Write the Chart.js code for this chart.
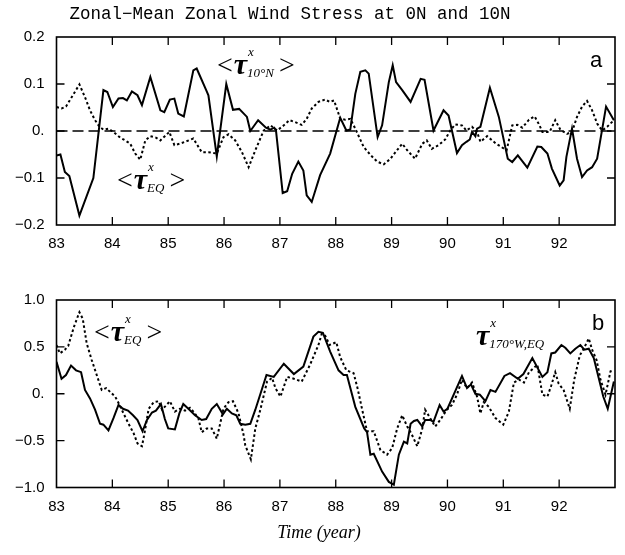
<!DOCTYPE html>
<html>
<head>
<meta charset="utf-8">
<script src="https://cdn.jsdelivr.net/npm/chart.js@4.4.0/dist/chart.umd.min.js"></script>
<style>
  body { margin: 0; background: #fff; }
  #wrap { position: relative; width: 625px; height: 555px; }
  canvas { position: absolute; left: 0; }
</style>
</head>
<body>
<div id="wrap">
  <canvas id="chart-a" width="625" height="260" style="top:0"></canvas>
  <canvas id="chart-b" width="625" height="295" style="top:260px"></canvas>
</div>
<script>
// ---- panel a: zonal-mean stress at 10N (solid) and EQ (dotted), N/m^2 ----
const yearsA10N = [83.0, 83.07, 83.15, 83.23, 83.41, 83.66, 83.84, 83.91, 84.01, 84.11,
  84.19, 84.26, 84.35, 84.45, 84.53, 84.68, 84.86, 84.93, 85.03, 85.11,
  85.18, 85.28, 85.45, 85.51, 85.68, 85.72, 85.87, 86.04, 86.16, 86.27,
  86.41, 86.47, 86.61, 86.75, 86.83, 86.9, 86.93, 87.05, 87.13, 87.22,
  87.33, 87.42, 87.48, 87.57, 87.72, 87.9, 88.08, 88.19, 88.26, 88.35,
  88.44, 88.53, 88.59, 88.75, 88.83, 88.95, 89.02, 89.08, 89.19, 89.34,
  89.52, 89.59, 89.75, 89.93, 90.02, 90.17, 90.26, 90.34, 90.4, 90.44,
  90.5, 90.53, 90.59, 90.76, 90.92, 91.08, 91.16, 91.26, 91.43, 91.61,
  91.68, 91.79, 91.87, 92.01, 92.08, 92.13, 92.23, 92.32, 92.41, 92.5,
  92.59, 92.68, 92.84, 92.98];
const tau10N = [-0.052, -0.05, -0.087, -0.096, -0.18, -0.10, 0.087, 0.083, 0.051, 0.069,
  0.07, 0.065, 0.084, 0.076, 0.055, 0.115, 0.044, 0.04, 0.067, 0.069,
  0.037, 0.031, 0.129, 0.133, 0.087, 0.076, -0.054, 0.1, 0.045, 0.047,
  0.03, 0.0, 0.023, 0.007, 0.003, 0.007, 0.001, -0.132, -0.128, -0.091,
  -0.065, -0.084, -0.137, -0.151, -0.094, -0.048, 0.028, 0.001, 0.003, 0.079,
  0.126, 0.129, 0.122, -0.013, 0.012, 0.104, 0.14, 0.104, 0.087, 0.062,
  0.111, 0.109, 0.001, 0.044, 0.033, -0.047, -0.03, -0.023, -0.018, -0.002,
  -0.011, 0.005, 0.009, 0.092, 0.03, -0.059, -0.066, -0.052, -0.078, -0.033,
  -0.034, -0.048, -0.08, -0.116, -0.105, -0.055, 0.005, -0.059, -0.098, -0.084,
  -0.077, -0.059, 0.052, 0.023];

const yearsAEQ = [83.0, 83.09, 83.17, 83.41, 83.51, 83.6, 83.69, 83.77, 83.84, 83.93,
  84.02, 84.14, 84.23, 84.32, 84.41, 84.5, 84.59, 84.68, 84.78, 84.86,
  84.94, 85.02, 85.11, 85.21, 85.3, 85.45, 85.6, 85.72, 85.87, 85.99,
  86.08, 86.2, 86.32, 86.44, 86.56, 86.71, 86.83, 86.95, 87.07, 87.17,
  87.27, 87.39, 87.48, 87.57, 87.69, 87.81, 87.89, 87.97, 88.08, 88.17,
  88.26, 88.35, 88.5, 88.63, 88.74, 88.86, 88.98, 89.07, 89.19, 89.28,
  89.42, 89.55, 89.63, 89.72, 89.84, 89.96, 90.05, 90.14, 90.26, 90.34,
  90.44, 90.53, 90.59, 90.71, 90.86, 91.06, 91.16, 91.25, 91.34, 91.46,
  91.56, 91.64, 91.7, 91.83, 91.93, 92.02, 92.14, 92.23, 92.32, 92.41,
  92.5, 92.59, 92.68, 92.77, 92.86, 92.98];
const tauEQa = [0.051, 0.048, 0.052, 0.099, 0.072, 0.044, 0.023, 0.009, 0.003, 0.005,
  -0.002, -0.014, -0.02, -0.027, -0.048, -0.061, -0.02, -0.011, -0.014, -0.02,
  -0.011, -0.002, -0.03, -0.027, -0.023, -0.016, -0.045, -0.045, -0.048, -0.013,
  -0.007, -0.02, -0.045, -0.077, -0.041, 0.001, 0.012, 0.001, 0.012, 0.023,
  0.019, 0.013, 0.026, 0.048, 0.062, 0.067, 0.062, 0.065, 0.026, 0.024,
  0.026, 0.005, -0.034, -0.052, -0.065, -0.071, -0.059, -0.045, -0.027, -0.041,
  -0.059, -0.027, -0.02, -0.038, -0.03, -0.018, 0.001, 0.014, 0.012, 0.001,
  0.009, -0.002, -0.023, -0.011, -0.026, -0.041, 0.012, 0.013, 0.007, 0.024,
  0.031, 0.014, -0.002, -0.002, 0.023, 0.003, -0.006, -0.002, 0.03, 0.052,
  0.064, 0.044, 0.016, 0.001, 0.009, 0.023];

const zeroYears = [83, 93];
const zeroLine = [0, 0];

// ---- panel b: stress at 170W on the equator (solid) and zonal mean EQ (dotted), dyn/cm^2 ----
const yearsB170W = [83.0, 83.09, 83.17, 83.26, 83.35, 83.44, 83.51, 83.6, 83.69, 83.78,
  83.84, 83.93, 84.02, 84.11, 84.19, 84.28, 84.37, 84.45, 84.54, 84.62,
  84.71, 84.78, 84.87, 84.94, 85.0, 85.12, 85.2, 85.27, 85.38, 85.48,
  85.6, 85.68, 85.78, 85.87, 85.98, 86.05, 86.14, 86.22, 86.29, 86.38,
  86.47, 86.56, 86.76, 86.89, 87.07, 87.25, 87.42, 87.6, 87.69, 87.77,
  87.9, 88.05, 88.14, 88.2, 88.35, 88.51, 88.56, 88.62, 88.68, 88.83,
  88.95, 89.04, 89.13, 89.22, 89.28, 89.34, 89.4, 89.46, 89.55, 89.6,
  89.69, 89.75, 89.86, 89.93, 90.0, 90.26, 90.35, 90.42, 90.5, 90.58,
  90.68, 90.77, 90.86, 91.02, 91.12, 91.26, 91.36, 91.52, 91.7, 91.79,
  91.86, 91.93, 92.04, 92.11, 92.2, 92.29, 92.38, 92.45, 92.53, 92.62,
  92.79, 92.87, 92.98];
const tau170W = [0.34, 0.16, 0.2, 0.3, 0.25, 0.23, 0.04, -0.05, -0.17, -0.32,
  -0.33, -0.39, -0.26, -0.12, -0.16, -0.18, -0.23, -0.28, -0.4, -0.28,
  -0.2, -0.18, -0.11, -0.27, -0.37, -0.38, -0.21, -0.11, -0.17, -0.23,
  -0.28, -0.27, -0.16, -0.11, -0.22, -0.16, -0.21, -0.23, -0.32, -0.33,
  -0.32, -0.17, 0.2, 0.18, 0.32, 0.21, 0.29, 0.61, 0.66, 0.65,
  0.45, 0.25, 0.2, 0.2, -0.14, -0.37, -0.41, -0.65, -0.64, -0.83,
  -0.94, -0.97, -0.65, -0.51, -0.53, -0.32, -0.29, -0.28, -0.35, -0.28,
  -0.28, -0.3, -0.12, -0.19, -0.16, 0.19, 0.06, 0.1, 0.0, -0.01,
  -0.08, 0.04, 0.02, 0.19, 0.22, 0.16, 0.21, 0.38, 0.18, 0.23,
  0.43, 0.44, 0.52, 0.49, 0.43, 0.48, 0.52, 0.47, 0.48, 0.38,
  -0.03, -0.16, 0.13];

const yearsBEQ = [83.0, 83.06, 83.15, 83.21, 83.31, 83.41, 83.47, 83.54, 83.63, 83.72,
  83.81, 83.89, 83.96, 84.05, 84.13, 84.2, 84.29, 84.38, 84.45, 84.53,
  84.57, 84.65, 84.74, 84.83, 84.89, 84.97, 85.03, 85.12, 85.21, 85.3,
  85.39, 85.45, 85.54, 85.6, 85.69, 85.78, 85.87, 85.99, 86.08, 86.16,
  86.26, 86.35, 86.38, 86.48, 86.56, 86.65, 86.77, 86.86, 86.92, 87.01,
  87.13, 87.25, 87.39, 87.54, 87.69, 87.75, 87.81, 87.89, 88.01, 88.08,
  88.19, 88.32, 88.39, 88.47, 88.56, 88.68, 88.8, 88.92, 89.01, 89.1,
  89.19, 89.28, 89.35, 89.46, 89.55, 89.6, 89.66, 89.78, 89.87, 89.99,
  90.08, 90.17, 90.26, 90.35, 90.44, 90.53, 90.59, 90.65, 90.74, 90.86,
  91.0, 91.1, 91.19, 91.28, 91.37, 91.46, 91.61, 91.7, 91.79, 91.86,
  91.93, 91.99, 92.08, 92.19, 92.27, 92.37, 92.44, 92.53, 92.59, 92.67,
  92.74, 92.83, 92.92, 92.98];
const tauEQb = [0.52, 0.43, 0.47, 0.51, 0.71, 0.87, 0.8, 0.54, 0.36, 0.2,
  0.04, 0.06, 0.02, -0.03, -0.12, -0.21, -0.32, -0.42, -0.53, -0.56,
  -0.44, -0.16, -0.09, -0.08, -0.17, -0.12, -0.08, -0.19, -0.16, -0.18,
  -0.15, -0.19, -0.26, -0.41, -0.37, -0.37, -0.48, -0.16, -0.09, -0.08,
  -0.21, -0.44, -0.55, -0.7, -0.37, -0.17, 0.13, 0.17, 0.06, -0.03,
  0.18, 0.16, 0.13, 0.31, 0.52, 0.64, 0.62, 0.52, 0.55, 0.39,
  0.25, 0.22, 0.06, -0.16, -0.4, -0.4, -0.6, -0.65, -0.58, -0.37,
  -0.23, -0.35, -0.42, -0.56, -0.37, -0.17, -0.23, -0.35, -0.28, -0.17,
  -0.12, -0.01, 0.15, 0.06, 0.12, -0.03, -0.21, -0.09, -0.14, -0.26,
  -0.33, -0.19, 0.12, 0.15, 0.12, 0.23, 0.31, -0.01, -0.03, 0.09,
  0.23, 0.11, 0.04, -0.16, 0.15, 0.41, 0.48, 0.59, 0.47, 0.36,
  0.15, -0.01, 0.24, 0.25];

const pts = (xs, ys) => xs.map((x, i) => ({ x: x, y: ys[i] }));

// frame round the plot area and inward tick marks on all four sides
const frameTicks = {
  id: 'frameTicks',
  afterDatasetsDraw(chart) {
    const { ctx, chartArea: a, scales } = chart;
    ctx.save();
    ctx.strokeStyle = '#000';
    ctx.lineWidth = 1.6;
    ctx.strokeRect(a.left, a.top, a.right - a.left, a.bottom - a.top);
    ctx.lineWidth = 1.3;
    ctx.beginPath();
    scales.x.ticks.forEach(t => {
      const px = scales.x.getPixelForValue(t.value);
      if (px < a.left + 2 || px > a.right - 2) return;
      ctx.moveTo(px, a.bottom); ctx.lineTo(px, a.bottom - 8);
      ctx.moveTo(px, a.top); ctx.lineTo(px, a.top + 8);
    });
    scales.y.ticks.forEach(t => {
      const py = scales.y.getPixelForValue(t.value);
      if (py < a.top + 2 || py > a.bottom - 2) return;
      ctx.moveTo(a.left, py); ctx.lineTo(a.left + 8, py);
      ctx.moveTo(a.right, py); ctx.lineTo(a.right - 8, py);
    });
    ctx.stroke();
    ctx.restore();
  }
};

// tau with superscript x and a subscript, optionally inside < >
function drawTau(ctx, x, base, sub, wrap) {
  ctx.textBaseline = 'alphabetic';
  ctx.textAlign = 'left';
  if (wrap) {
    ctx.font = '28px "Liberation Serif"';
    ctx.fillText('<', x, base);
    x += ctx.measureText('<').width + 1;
  }
  ctx.font = 'italic bold 30px "Liberation Serif"';
  ctx.fillText('\u03C4', x, base);
  x += ctx.measureText('\u03C4').width;
  ctx.font = 'italic 13px "Liberation Serif"';
  ctx.fillText('x', x + 1, base - 18);
  ctx.fillText(sub, x, base + 3);
  x += ctx.measureText(sub).width + 2;
  if (wrap) {
    ctx.font = '28px "Liberation Serif"';
    ctx.fillText('>', x + 3, base);
  }
}

const notesA = {
  id: 'notesA',
  afterDraw(chart) {
    const ctx = chart.ctx;
    ctx.save();
    ctx.fillStyle = '#000';
    ctx.font = '17.5px "Liberation Mono"';
    ctx.textAlign = 'center';
    ctx.textBaseline = 'alphabetic';
    ctx.fillText('Zonal\u2212Mean Zonal Wind Stress at 0N and 10N', 290, 19);
    drawTau(ctx, 217, 74, '10\u00B0N', true);
    drawTau(ctx, 117, 189, 'EQ', true);
    ctx.font = '22px "Liberation Sans"';
    ctx.textAlign = 'left';
    ctx.fillText('a', 590, 67);
    ctx.restore();
  }
};

const notesB = {
  id: 'notesB',
  afterDraw(chart) {
    const ctx = chart.ctx;
    ctx.save();
    ctx.fillStyle = '#000';
    drawTau(ctx, 94, 81, 'EQ', true);
    drawTau(ctx, 476, 85, '170\u00B0W,EQ', false);
    ctx.font = '22px "Liberation Sans"';
    ctx.textAlign = 'left';
    ctx.textBaseline = 'alphabetic';
    ctx.fillText('b', 592, 70);
    ctx.font = 'italic 18px "Liberation Serif"';
    ctx.textAlign = 'center';
    ctx.fillText('Time (year)', 319, 278);
    ctx.restore();
  }
};

const fmt = v => Math.abs(v) < 1e-9 ? '0.' : (v < 0 ? '\u2212' : '') + Math.abs(v).toFixed(1);
const tickFont = { family: '"Liberation Sans"', size: 15 };

function panelOptions(yMin, yMax, yStep, labelEvery, top, xHeight) {
  return {
    responsive: false,
    animation: false,
    layout: { padding: { left: 0, right: 10, top: top, bottom: 0 } },
    plugins: { legend: { display: false }, tooltip: { enabled: false } },
    elements: { point: { radius: 0 }, line: { tension: 0, borderColor: '#000' } },
    scales: {
      x: {
        type: 'linear', min: 83, max: 93,
        grid: { display: false, drawTicks: false },
        border: { display: false },
        afterFit: s => { s.height = xHeight; },
        ticks: {
          stepSize: 0.5, autoSkip: false, maxRotation: 0, padding: 10,
          color: '#000', font: tickFont,
          callback: v => (Number.isInteger(v) && v < 93) ? String(v) : null
        }
      },
      y: {
        min: yMin, max: yMax,
        grid: { display: false, drawTicks: false },
        border: { display: false },
        afterFit: s => { s.width = 56.5; },
        ticks: {
          stepSize: yStep, autoSkip: false, padding: 12,
          color: '#000', font: tickFont,
          callback: v => (Math.round(v * 100) % labelEvery === 0) ? fmt(v) : null
        }
      }
    }
  };
}

new Chart(document.getElementById('chart-a'), {
  type: 'line',
  data: {
    datasets: [
      { data: pts(zeroYears, zeroLine), borderColor: '#000', borderWidth: 1.6, borderDash: [11, 5] },
      { data: pts(yearsAEQ, tauEQa), borderColor: '#000', borderWidth: 2, borderDash: [2.5, 2.5] },
      { data: pts(yearsA10N, tau10N), borderColor: '#000', borderWidth: 2 }
    ]
  },
  options: panelOptions(-0.2, 0.2, 0.05, 10, 37, 35),
  plugins: [frameTicks, notesA]
});

new Chart(document.getElementById('chart-b'), {
  type: 'line',
  data: {
    datasets: [
      { data: pts(yearsBEQ, tauEQb), borderColor: '#000', borderWidth: 2, borderDash: [2.5, 2.5] },
      { data: pts(yearsB170W, tau170W), borderColor: '#000', borderWidth: 2 }
    ]
  },
  options: panelOptions(-1.0, 1.0, 0.25, 50, 40, 67.5),
  plugins: [frameTicks, notesB]
});
</script>
</body>
</html>
